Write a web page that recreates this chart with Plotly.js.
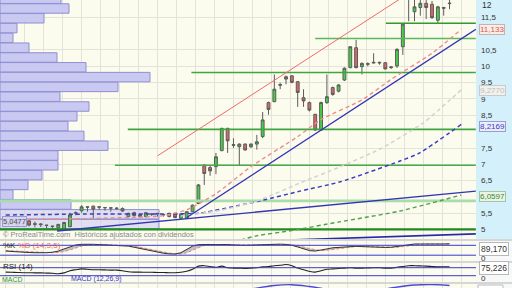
<!DOCTYPE html>
<html><head><meta charset="utf-8">
<script src="https://cdn.plot.ly/plotly-3.0.1.min.js"></script>
<style>html,body{margin:0;padding:0;background:#fff}#c{width:512px;height:288px}</style>
</head><body><div id="c"></div>
<script>
// ---- candles (weekly) ----
const open  = [5.20,5.25,5.27,5.18,5.27,5.16,5.15,5.14,5.11,5.06, 5.02,5.09,5.50,5.58,5.70,5.72,5.70,5.68,5.67,5.66, 5.65,5.40,5.52,5.40,5.40,5.47,5.50,5.45,5.40,5.50, 5.35,5.35,5.55,5.80,6.98,6.90,6.93,7.42,8.10,7.58, 7.54,7.62,7.54,7.62,7.85,8.89,8.92,9.42,9.68,9.71, 9.53,9.04,8.89,8.53,8.05,8.89,9.35,9.24,9.58,9.96, 10.57,9.99,10.06,10.10,10.10,10.11,9.96,10.01,10.60,12.05, 11.67,11.80,11.93,11.90,11.41,11.80,11.92];
const high  = [5.30,5.32,5.30,5.24,5.30,5.25,5.20,5.15,5.12,5.18, 5.24,5.52,5.56,5.75,5.71,5.74,5.71,5.69,5.68,5.69, 5.68,5.52,5.55,5.48,5.53,5.50,5.51,5.48,5.52,5.52, 5.49,5.56,5.77,6.40,7.00,6.95,7.35,8.12,8.12,7.80, 7.64,7.64,7.64,7.90,8.60,8.92,9.75,9.50,9.72,9.73, 9.55,9.30,8.92,8.55,8.92,9.75,9.38,9.45,9.97,10.62, 10.81,10.12,10.12,10.40,10.14,10.13,10.00,10.55,11.30,12.35, 12.10,12.10,12.10,12.00,11.85,11.82,12.05];
const low   = [5.12,5.15,5.10,5.12,5.10,5.07,5.08,5.02,5.00,5.04, 5.00,5.08,5.44,5.52,5.55,5.35,5.60,5.58,5.55,5.60, 5.55,5.38,5.40,5.38,5.38,5.42,5.40,5.40,5.38,5.35, 5.33,5.33,5.53,5.78,6.37,6.65,6.70,7.40,7.35,7.50, 6.95,7.42,7.50,7.45,7.80,8.52,8.90,9.30,9.45,9.48, 8.76,8.76,8.62,8.03,8.02,8.85,9.10,9.20,9.55,9.94, 9.94,9.75,10.00,10.09,10.05,9.90,9.92,9.95,10.35,11.38, 11.38,11.55,11.45,11.45,11.32,11.55,11.75];
const close = [5.25,5.20,5.14,5.19,5.14,5.18,5.17,5.13,5.10,5.16, 5.22,5.45,5.52,5.70,5.69,5.63,5.69,5.67,5.66,5.65, 5.57,5.50,5.43,5.46,5.52,5.48,5.49,5.46,5.50,5.37, 5.48,5.55,5.75,6.37,6.72,6.80,7.23,8.10,7.72,7.60, 7.62,7.44,7.62,7.69,8.36,8.68,9.30,9.44,9.61,9.51, 9.20,8.94,8.66,8.05,8.89,9.07,9.14,9.43,9.94,10.60, 9.96,10.09,10.08,10.12,10.12,9.92,9.98,10.52,11.29,12.20, 11.82,11.93,11.80,11.49,11.82,11.78,11.93];

// ---- volume profile ----
const profilePrices  = [12.07,11.77,11.47,11.17,10.87,10.57,10.27,9.97,9.67,9.37,9.07,8.77,8.47,8.17,7.87,7.57,7.27,6.97,6.67,6.37,6.07,5.77,5.47,5.17];
const profileVolumes = [61,69,44,17,13,29,57,86,150,118,60,89,77,68,84,108,58,58,42,28,13,71,159,159];

// ---- moving averages (read at candle positions) ----
const maRedX  = [0,14,27,31,36,42,50,54,61,66,73,78];
const maRedY  = [5.31,5.34,5.43,5.61,6.10,6.93,7.85,8.37,8.97,9.60,10.40,11.13];
const maGreyX = [30,37,43.5,50.4,57.2,64.1,71.5,78];
const maGreyY = [5.42,5.60,5.91,6.43,6.92,7.47,8.27,9.28];
const maBlueX = [0,16,28,33.3,43.5,50.4,57.2,67.5,70.9,78];
const maBlueY = [5.45,5.48,5.48,5.51,5.88,6.18,6.46,7.10,7.35,8.22];
const maGreenX = [38,39.6,42.9,48.5,57.2,67.5,78];
const maGreenY = [4.55,4.65,4.81,4.96,5.24,5.57,6.06];

// ---- trend lines ----
const trendRedX = [26,72],      trendRedY = [7.26,12.58];
const trendBlueX = [31,80.5],   trendBlueY = [5.37,11.13];
const trendBlue2X = [8.8,80.5], trendBlue2Y = [4.96,6.18];
const trendBlue3X = [42.7,80.5],trendBlue3Y = [4.65,4.87];

// ---- horizontal support / resistance ----
const levelPrices = [11.32,10.85,9.81,8.07,6.97,5.88,5.01];
const levelStarts = [65.1,53,31.8,20.9,18.7,-1,-1];
const levelEnd = 80.5;

// ---- price axis ticks (11, 8 and 6 sit under the value boxes; 12 is pinned at the top edge) ----
const priceTicks = [5,5.5,6.5,7,7.5,8.5,9,9.5,10,10.5,11.5];
const priceTickText = ['5','5,5','6,5','7','7,5','8,5','9','9,5','10','10,5','11,5'];
const topTickText = '12';

// ---- oscillators ----
const stochK = [45,42,40,38,36,35,34,35, 38,45,58,72, 82,86,88,86,84,83,82,80,78,75, 68,60,52,45,38,32,28,27, 35,55,75,84, 86,85,84,86,85,82,80,80,81,82,84,86,88,87,85, 80,70,58,48,45,50,58, 65,68,72,75,74,72,70,68,68,67,68, 74,80,84,88,88,87,86,86,88,89];
const stochD = [48,46,44,41,39,37,36,35, 35,37,42,52, 65,75,82,85,86,85,84,82,80,78, 75,68,60,52,45,38,33,29, 28,35,50,68, 80,84,85,85,85,84,82,81,80,81,82,84,86,87,86, 84,78,70,60,52,48,50, 55,62,67,71,73,73,72,70,69,68,67, 68,72,78,83,86,87,87,86,86,87];
const rsi = [48,47,46,45,45,44,44,43,42, 40,44,55,60,64, 62,60,60,59,58,58,55,50, 48,48,47,47,46,46,45,45, 47,52,62,78, 80,76,72,78,70,68,68,66,68, 70,74,76,80,82,86, 80,68,60,52,48,55,62, 64,66,68,70,68,68,69,70,70,68,68, 72,76,80,80,79,78,76,74,75,75];
const stochLevels = [20,80];
const rsiLevels = [30,70];
const macdX = [38,42,46,49,52,56,62,66,70,73,76];
const macdY = [0.50,0.66,0.80,0.83,0.76,0.62,0.55,0.70,0.82,0.84,0.80];

// ---- labels ----
const valueLabels = [
  {t:'11,133', c:'#e05252', bg:'#f7efe6', b:'#c9b2b2', y:30},
  {t:'9,2770', c:'#bdbdbd', bg:'#f1f1ee', b:'#cacaca', y:90.5},
  {t:'8,2169', c:'#3a3ac8', bg:'#ebeef8', b:'#9c9cd0', y:126.5},
  {t:'6,0597', c:'#2f8c2f', bg:'#ebf3e6', b:'#a4c4a4', y:196}
];

const W=512,H=288;
const px=v=>v/W, py=v=>1-v/H;
const XR=[-0.976,80.53];
const XD=[0,476/W];
const F='Liberation Sans, Arial, sans-serif';
const idx = open.map((_,i)=>i);
const grid = {range:XR, tick0:3.3, dtick:3.25, showgrid:true, gridcolor:'#e3e3da', gridwidth:1, showticklabels:false, zeroline:false, ticks:'', fixedrange:true};

const traces = [];
traces.push({type:'bar', orientation:'h', y:profilePrices, x:profileVolumes, xaxis:'x', yaxis:'y', width:0.29,
  marker:{color:profilePrices.map((_,i)=> i>=22 ? 'rgba(200,200,242,0.55)' : 'rgba(198,198,241,0.95)'), line:{color:'#8f8fd4', width:1}}, hoverinfo:'skip'});

const levelColors = ['#2f9a2f','#5bb85b','#3fa63f','#3fa63f','#48aa48','#a9dca9','#1f8a1f'];
const levelWidths = [1.6,1.6,1.6,1.6,1.6,2.6,2.4];
levelPrices.forEach((p,k)=>{
  traces.push({type:'scatter', mode:'lines', x:[levelStarts[k], levelEnd], y:[p,p], xaxis:'x2', yaxis:'y',
    line:{color:levelColors[k], width:levelWidths[k]}, hoverinfo:'skip'});
});
const line=(x,y,color,width,dash)=>({type:'scatter', mode:'lines', x, y, xaxis:'x2', yaxis:'y', line:{color, width, dash:dash||'solid', shape:'spline', smoothing:0.6}, hoverinfo:'skip'});
traces.push(line(maGreenX, maGreenY, '#4f9f4f', 1.4, '4px,3px'));
traces.push(line(maBlueX, maBlueY, '#3d3dc4', 1.5, '4px,3px'));
traces.push(line(maGreyX, maGreyY, '#d2d2d2', 1.5, '4px,3px'));
traces.push(line(maRedX, maRedY, '#ee8c8c', 1.4, '4px,3px'));
traces.push(line(trendRedX, trendRedY, '#ef6b6b', 1));
traces.push(line(trendBlueX, trendBlueY, '#3434b4', 1.3));
traces.push(line(trendBlue2X, trendBlue2Y, '#3434b4', 1.3));
traces.push(line(trendBlue3X, trendBlue3Y, '#2a2aa8', 1.6));

traces.push({type:'candlestick', x:idx, open, high, low, close, xaxis:'x2', yaxis:'y', whiskerwidth:0,
  increasing:{line:{color:'#5c5c5c', width:1}, fillcolor:'#44d044'},
  decreasing:{line:{color:'#5c5c5c', width:1}, fillcolor:'#d96666'}, hoverinfo:'skip'});

traces.push({type:'scatter', mode:'lines', x:idx, y:stochD, xaxis:'x3', yaxis:'y3', line:{color:'#ef8080', width:1, dash:'3px,2px'}, hoverinfo:'skip'});
traces.push({type:'scatter', mode:'lines', x:idx, y:stochK, xaxis:'x3', yaxis:'y3', line:{color:'#333', width:1}, fill:'tonexty', fillcolor:'rgba(120,120,160,0.45)', hoverinfo:'skip'});
traces.push({type:'scatter', mode:'lines', x:idx, y:rsi, xaxis:'x4', yaxis:'y4', line:{color:'#222', width:1.1, shape:'spline'}, hoverinfo:'skip'});
traces.push({type:'scatter', mode:'lines', x:macdX, y:macdY, xaxis:'x5', yaxis:'y5', line:{color:'#4a4ad2', width:1.3, shape:'spline'}, hoverinfo:'skip'});

const shapes = [
  {type:'rect', xref:'paper', yref:'paper', x0:476/W, x1:1, y0:py(239), y1:1, fillcolor:'#d4f0fa', line:{width:0}, layer:'below'},
  {type:'rect', xref:'paper', yref:'paper', x0:476/W, x1:1, y0:py(261), y1:py(241), fillcolor:'#f7f8f8', line:{width:0}, layer:'below'},
  {type:'rect', xref:'paper', yref:'paper', x0:476/W, x1:1, y0:py(282), y1:py(263), fillcolor:'#f7f8f8', line:{width:0}, layer:'below'},
  {type:'rect', xref:'paper', yref:'paper', x0:476/W, x1:1, y0:0, y1:py(284), fillcolor:'#f7f8f8', line:{width:0}, layer:'below'},
  {type:'rect', xref:'paper', yref:'paper', x0:px(478), x1:px(503), y0:py(290), y1:py(285), fillcolor:'#ffffff', line:{color:'#bbbbbb', width:1}}
];
stochLevels.forEach(v=>shapes.push({type:'line', xref:'paper', yref:'y3', x0:0, x1:476/W, y0:v, y1:v, line:{color:'#3b3bd0', width:1}}));
rsiLevels.forEach(v=>shapes.push({type:'line', xref:'paper', yref:'y4', x0:0, x1:476/W, y0:v, y1:v, line:{color:'#3b3bd0', width:1}}));

const ann = [];
ann.push({xref:'paper', yref:'paper', x:px(480.5), y:py(4.5), xanchor:'left', yanchor:'middle', text:topTickText, showarrow:false,
  font:{family:F, size:8.5, color:'#333'}, borderpad:0});
valueLabels.forEach(l=>ann.push({xref:'paper', yref:'paper', x:px(478.5), y:py(l.y), xanchor:'left', yanchor:'middle', text:l.t, showarrow:false,
  font:{family:F, size:8, color:l.c}, bgcolor:l.bg, bordercolor:l.b, borderwidth:1, borderpad:0}));
ann.push({xref:'paper', yref:'paper', x:px(2), y:py(221.5), xanchor:'left', yanchor:'middle', text:'5,0477', showarrow:false,
  font:{family:F, size:7.5, color:'#555'}, bgcolor:'rgba(214,214,244,0.9)', bordercolor:'#9a9ad0', borderwidth:1, borderpad:0});
ann.push({xref:'paper', yref:'paper', x:px(1), y:py(234.5), xanchor:'left', yanchor:'middle', text:'© ProRealTime.com  Históricos ajustados con dividendos', showarrow:false,
  font:{family:F, size:7.5, color:'#8a8a8a'}});
ann.push({xref:'paper', yref:'paper', x:px(1), y:py(245.5), xanchor:'left', yanchor:'middle', text:'<span style="color:#222">%K</span> <span style="color:#e86a6a">%D (14,3,5)</span>', showarrow:false,
  font:{family:F, size:8}});
ann.push({xref:'paper', yref:'paper', x:px(1), y:py(266), xanchor:'left', yanchor:'middle', text:'RSI (14)', showarrow:false, font:{family:F, size:8, color:'#222'}});
ann.push({xref:'paper', yref:'paper', x:px(1), y:py(284), xanchor:'left', yanchor:'bottom', text:'<span style="color:#2e9a2e">MACD</span>', showarrow:false, font:{family:F, size:7}, borderpad:0});
ann.push({xref:'paper', yref:'paper', x:px(70), y:py(284), xanchor:'left', yanchor:'bottom', text:'<span style="color:#3636c8">MACD (12,26,9)</span>', showarrow:false, font:{family:F, size:7}, borderpad:0});
ann.push({xref:'paper', yref:'paper', x:px(478.5), y:py(248.5), xanchor:'left', yanchor:'middle', text:'89,170', showarrow:false,
  font:{family:F, size:8.5, color:'#333'}, bgcolor:'#ffffff', bordercolor:'#b8b8b8', borderwidth:1, borderpad:1});
ann.push({xref:'paper', yref:'paper', x:px(480), y:py(258.5), xanchor:'left', yanchor:'middle', text:'0', showarrow:false, font:{family:F, size:8, color:'#333'}, borderpad:0});
ann.push({xref:'paper', yref:'paper', x:px(478.5), y:py(268), xanchor:'left', yanchor:'middle', text:'75,226', showarrow:false,
  font:{family:F, size:8.5, color:'#333'}, bgcolor:'#ffffff', bordercolor:'#b8b8b8', borderwidth:1, borderpad:1});
ann.push({xref:'paper', yref:'paper', x:px(480), y:py(278.5), xanchor:'left', yanchor:'middle', text:'0', showarrow:false, font:{family:F, size:8, color:'#333'}, borderpad:0});

const layout = {
  width:W, height:H, margin:{l:0,r:0,t:0,b:0}, autosize:false,
  paper_bgcolor:'#d6d6d6', plot_bgcolor:'#fbfbee', separators:',.', showlegend:false,
  font:{family:F, size:8.5, color:'#333'},
  xaxis:{domain:XD, range:[0,476], visible:false, fixedrange:true},
  xaxis2:Object.assign({overlaying:'x', anchor:'y', rangeslider:{visible:false}}, grid),
  yaxis:{domain:[py(239),1], range:[4.7145,12.03], side:'right', anchor:'x', tickmode:'array', tickvals:priceTicks, ticktext:priceTickText,
    gridcolor:'#e3e3da', zeroline:false, ticks:'', ticklabelstandoff:4, tickfont:{family:F, size:8, color:'#333'}, fixedrange:true},
  xaxis3:Object.assign({domain:XD, anchor:'y3'}, grid),
  yaxis3:{domain:[py(261),py(241)], range:[-15.15,106.06], anchor:'x3', showgrid:false, showticklabels:false, zeroline:false, fixedrange:true},
  xaxis4:Object.assign({domain:XD, anchor:'y4'}, grid),
  yaxis4:{domain:[py(282),py(263)], range:[-1.5,93.5], anchor:'x4', showgrid:false, showticklabels:false, zeroline:false, fixedrange:true},
  xaxis5:Object.assign({domain:XD, anchor:'y5'}, grid),
  yaxis5:{domain:[0,py(284)], range:[0.7,0.86], anchor:'x5', showgrid:false, showticklabels:false, zeroline:false, fixedrange:true},
  shapes, annotations:ann
};
Plotly.newPlot('c', traces, layout, {staticPlot:true, displayModeBar:false});
</script></body></html>
